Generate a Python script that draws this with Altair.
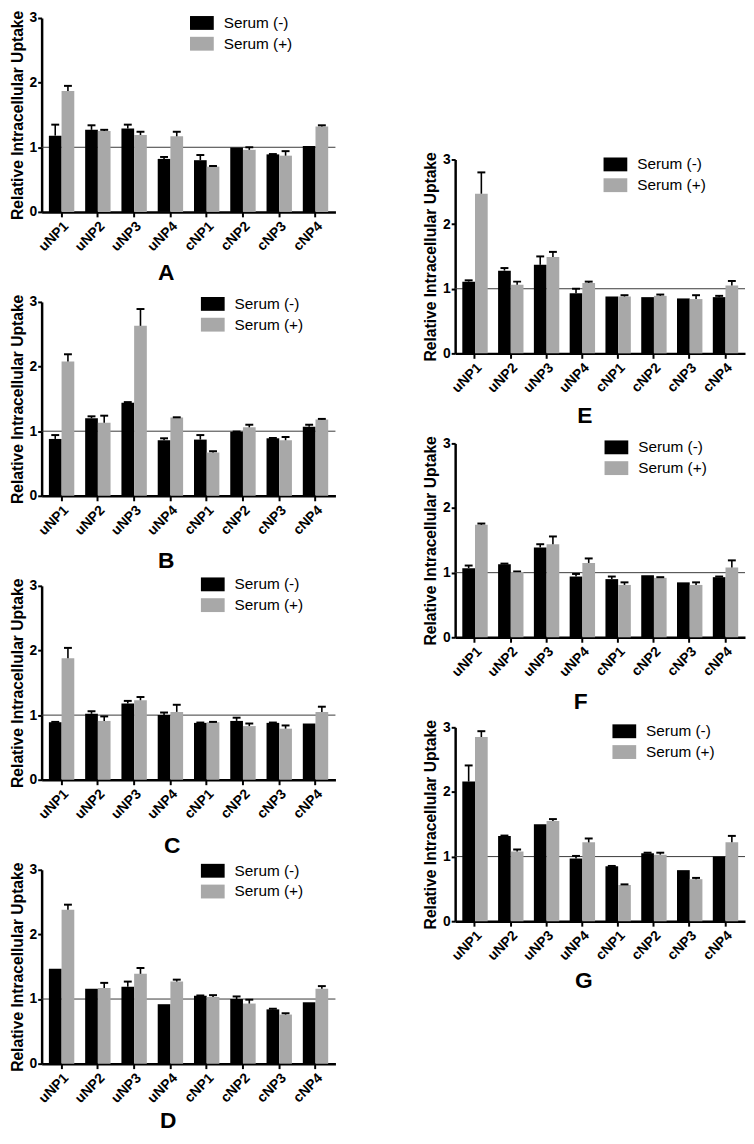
import altair as alt
import pandas as pd

categories = ["uNP1", "uNP2", "uNP3", "uNP4", "cNP1", "cNP2", "cNP3", "cNP4"]
serum_groups = ["Serum (-)", "Serum (+)"]
y_ticks = [0, 1, 2, 3]
y_title = "Relative Intracellular Uptake"

# Panel A
a_minus = [1.18, 1.27, 1.29, 0.82, 0.80, 0.995, 0.89, 1.02]
a_minus_err = [0.17, 0.07, 0.06, 0.03, 0.08, 0.0, 0.005, 0.0]
a_plus = [1.87, 1.25, 1.19, 1.17, 0.70, 0.96, 0.87, 1.32]
a_plus_err = [0.08, 0.02, 0.05, 0.07, 0.01, 0.04, 0.07, 0.02]
# Panel B
b_minus = [0.88, 1.20, 1.44, 0.86, 0.87, 0.99, 0.89, 1.07]
b_minus_err = [0.06, 0.03, 0.01, 0.03, 0.07, 0.005, 0.005, 0.03]
b_plus = [2.08, 1.13, 2.63, 1.21, 0.67, 1.06, 0.86, 1.18]
b_plus_err = [0.11, 0.11, 0.26, 0.005, 0.02, 0.04, 0.05, 0.01]
# Panel C
c_minus = [0.89, 1.02, 1.18, 1.00, 0.88, 0.91, 0.88, 0.87]
c_minus_err = [0.005, 0.04, 0.04, 0.04, 0.005, 0.05, 0.005, 0.0]
c_plus = [1.88, 0.91, 1.23, 1.05, 0.89, 0.83, 0.79, 1.05]
c_plus_err = [0.16, 0.07, 0.05, 0.11, 0.005, 0.04, 0.05, 0.08]
# Panel D
d_minus = [1.47, 1.16, 1.19, 0.92, 1.05, 1.00, 0.84, 0.95]
d_minus_err = [0.0, 0.0, 0.08, 0.0, 0.005, 0.04, 0.01, 0.0]
d_plus = [2.38, 1.17, 1.39, 1.27, 1.03, 0.93, 0.76, 1.16]
d_plus_err = [0.08, 0.08, 0.09, 0.03, 0.03, 0.06, 0.02, 0.04]
# Panel E
e_minus = [1.11, 1.28, 1.37, 0.93, 0.88, 0.87, 0.85, 0.87]
e_minus_err = [0.02, 0.04, 0.13, 0.07, 0.0, 0.0, 0.0, 0.02]
e_plus = [2.47, 1.06, 1.49, 1.09, 0.88, 0.89, 0.84, 1.05]
e_plus_err = [0.33, 0.05, 0.08, 0.02, 0.02, 0.02, 0.06, 0.07]
# Panel F
f_minus = [1.07, 1.13, 1.39, 0.94, 0.90, 0.96, 0.85, 0.93]
f_minus_err = [0.04, 0.01, 0.05, 0.04, 0.04, 0.0, 0.0, 0.01]
f_plus = [1.74, 1.01, 1.44, 1.15, 0.81, 0.92, 0.81, 1.08]
f_plus_err = [0.02, 0.01, 0.12, 0.07, 0.04, 0.01, 0.04, 0.11]
# Panel G
g_minus = [2.16, 1.32, 1.50, 0.97, 0.85, 1.05, 0.79, 1.00]
g_minus_err = [0.25, 0.005, 0.0, 0.04, 0.005, 0.01, 0.0, 0.0]
g_plus = [2.85, 1.08, 1.55, 1.22, 0.56, 1.03, 0.65, 1.22]
g_plus_err = [0.09, 0.03, 0.03, 0.06, 0.01, 0.03, 0.02, 0.10]

FONT = "Liberation Sans"
PLOT_H = 196
RECT = "M-1,-0.583H1V0.583H-1Z"


def panel(letter, minus, minus_err, plus, plus_err, width, leg_x, leg_y, let_x, let_y):
    rows = []
    for i, c in enumerate(categories):
        rows.append({"cat": c, "serum": serum_groups[0], "value": minus[i], "err": minus_err[i]})
        rows.append({"cat": c, "serum": serum_groups[1], "value": plus[i], "err": plus_err[i]})
    df = pd.DataFrame(rows)

    xaxis = alt.Axis(title=None, labelAngle=-45)
    yaxis = alt.Axis(values=y_ticks, title=y_title, format="d")
    yscale = alt.Scale(domain=[0, 3], nice=False, zero=True)
    x = alt.X("cat:N", sort=categories, axis=xaxis,
              scale=alt.Scale(paddingInner=0.3, paddingOuter=0.2))
    xo = alt.XOffset("serum:N", sort=serum_groups,
                     scale=alt.Scale(domain=serum_groups, paddingInner=0, paddingOuter=0))

    base = alt.Chart(df)
    bars = base.mark_bar().encode(
        x=x, xOffset=xo,
        y=alt.Y("value:Q", axis=yaxis, scale=yscale),
        color=alt.Color(
            "serum:N", title=None,
            scale=alt.Scale(domain=serum_groups, range=["#000000", "#a8a8a8"]),
            legend=alt.Legend(
                orient="none", legendX=leg_x, legendY=leg_y, direction="vertical",
                symbolType=RECT, symbolSize=576, symbolStrokeWidth=0, symbolOpacity=1,
                labelFont=FONT, labelFontSize=15.5, labelColor="black",
                labelOffset=10, rowPadding=0, padding=0,
            ),
        ),
    )
    eb = base.transform_filter("datum.err > 0").transform_calculate(top="datum.value + datum.err")
    stems = eb.mark_rule(color="black", strokeWidth=1.6).encode(
        x=x, xOffset=xo,
        y=alt.Y("value:Q", axis=yaxis, scale=yscale), y2="top:Q",
    )
    caps = eb.mark_tick(color="black", thickness=2, size=8, opacity=1).encode(
        x=x, xOffset=xo,
        y=alt.Y("top:Q", axis=yaxis, scale=yscale),
    )
    ref = alt.Chart(pd.DataFrame({"v": [1]})).mark_rule(color="#3a3a3a", strokeWidth=1).encode(
        y=alt.Y("v:Q", axis=yaxis, scale=yscale)
    )
    lab = alt.Chart(pd.DataFrame({"t": [letter]})).mark_text(
        font=FONT, fontSize=23, fontWeight="bold", color="black", align="center", baseline="middle"
    ).encode(text="t:N", x=alt.value(let_x), y=alt.value(let_y))
    return alt.layer(ref, bars, stems, caps, lab).properties(width=width, height=PLOT_H)


def spacer(width, height):
    return alt.Chart(pd.DataFrame({"a": [0]})).mark_point(
        opacity=0, size=1, strokeWidth=0, filled=True
    ).encode(x=alt.value(0), y=alt.value(0)).properties(width=width, height=height)


WL = 297
WR = 293
pA = panel("A", a_minus, a_minus_err, a_plus, a_plus_err, WL, 150, -7, 126, 258)
pB = panel("B", b_minus, b_minus_err, b_plus, b_plus_err, WL, 161, -10, 126, 262)
pC = panel("C", c_minus, c_minus_err, c_plus, c_plus_err, WL, 161, -13.5, 132, 263)
pD = panel("D", d_minus, d_minus_err, d_plus, d_plus_err, WL, 161, -11, 128, 254)
pE = panel("E", e_minus, e_minus_err, e_plus, e_plus_err, WR, 150, -7, 131, 259)
pF = panel("F", f_minus, f_minus_err, f_plus, f_plus_err, WR, 151, -8, 127, 261)
pG = panel("G", g_minus, g_minus_err, g_plus, g_plus_err, WR, 159, -8, 130, 257)

left = alt.vconcat(spacer(WL, 1), pA, pB, pC, pD, spacing=91, bounds="flush").resolve_scale(
    color="independent").resolve_legend(color="independent")
right = alt.vconcat(spacer(WR, 144), pE, pF, pG, spacing=91, bounds="flush").resolve_scale(
    color="independent").resolve_legend(color="independent")

chart = alt.hconcat(left, right, spacing=87).resolve_scale(
    color="independent").resolve_legend(color="independent").properties(
    padding={"left": 1, "top": -89, "right": 0, "bottom": -3}
).configure_view(strokeWidth=0).configure_axis(
    domainColor="black", domainWidth=2.5, tickColor="black", tickWidth=2,
    labelFont=FONT, labelFontSize=14, labelFontWeight="bold", labelColor="black",
    titleFont=FONT, titleFontSize=15.8, titleFontWeight="bold", titleColor="black",
    grid=False,
).configure_axisY(tickSize=4, labelPadding=1, titlePadding=4).configure_axisX(
    tickSize=5, labelPadding=2
)

chart.save("out.html", embed_options={"renderer": "svg", "actions": False})
